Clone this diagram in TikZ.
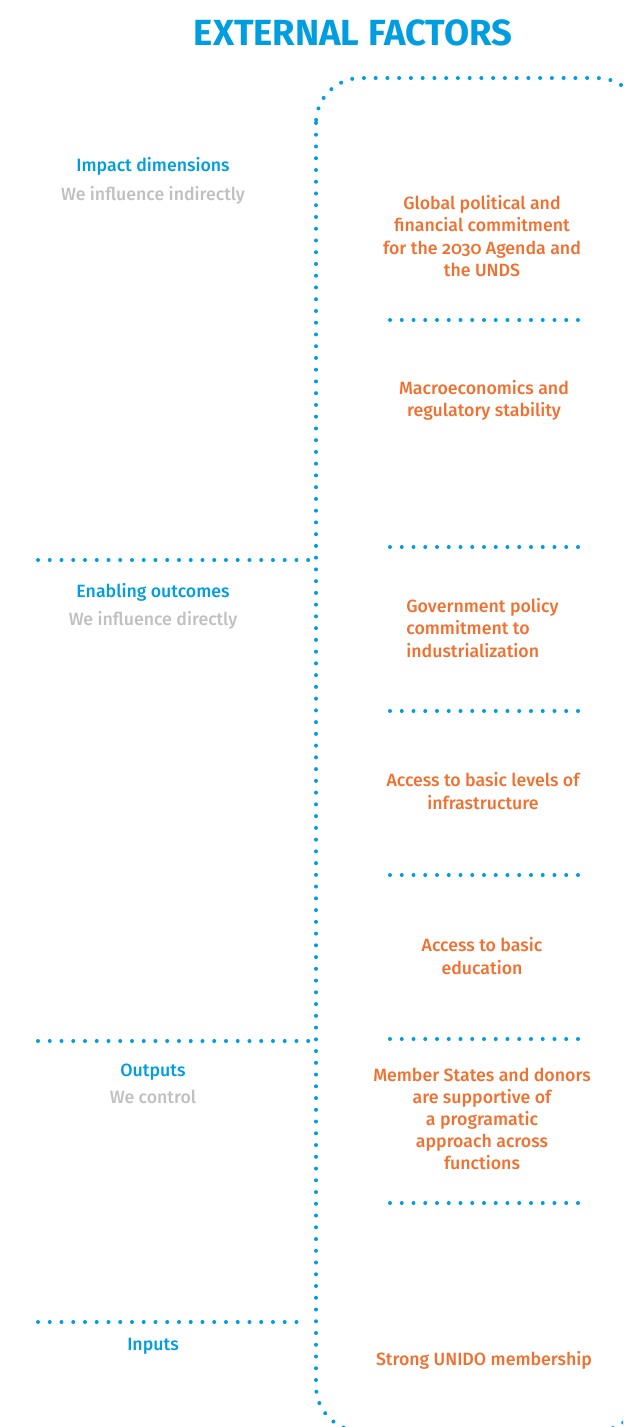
\documentclass[tikz,border=0pt]{standalone}
\usepackage{fontspec}
\setmainfont{Fira Sans}[Numbers=OldStyle]
\newfontfamily\medfont{Fira Sans Medium}[Numbers=OldStyle]
\usetikzlibrary{positioning}
\definecolor{unidoblue}{RGB}{0,158,224}
\definecolor{factororange}{RGB}{241,112,48}
\definecolor{softgray}{RGB}{192,192,192}
\newcommand{\Divider}[4]{
\coordinate (#1L) at (#2,#4);
\coordinate (#1R) at (#3,#4);
\draw[dotline] (#1L)--(#1R);
}

\begin{document}
\begin{tikzpicture}[x=0.02cm, y=-0.02cm,
dotline/.style={unidoblue, line width=0.08cm, line cap=round, dash pattern=on 0pt off 0.235cm},
level/.style={text=unidoblue, font=\medfont\fontsize{10.1}{12.6}\selectfont, inner sep=0, anchor=base},
control/.style={text=softgray, font=\medfont\fontsize{10.1}{12.6}\selectfont, inner sep=0, anchor=base},
factor/.style={text=factororange, font=\medfont\fontsize{10.1}{12.6}\selectfont, inner sep=0, align=center},
]
\useasboundingbox (0,0) rectangle (623,1427); %%%%%%% SIZE OF THE PAGE
\clip (0,0) rectangle (623,1427);

%%%%%%%%%%%%%%%%%%%%%%%% TITLE %%%%%%%%%%%%%%%%%%%%%%%%%%%
\node[text=unidoblue, font=\bfseries\fontsize{20.7}{24}\selectfont, inner sep=0] (Title) at (353,33) {EXTERNAL FACTORS};

%%%%%%%%%%%%%%%%%%%%%%%% FRAME %%%%%%%%%%%%%%%%%%%%%%%%%%%
\coordinate (FrameNW) at (316,78);
\coordinate (FrameSE) at (642,1431);
\draw[dotline, rounded corners=0.9cm] (FrameNW) rectangle (FrameSE);

%%%%%%%%% LEVELS (left side) %%%%%%%%%%%%%
\Divider{Enabling}{38}{316}{560}
\Divider{Outputs}{38}{316}{1041}
\Divider{Inputs}{38}{305}{1322}

\node[level] (Impact) at (153,171) {Impact dimensions};
\node[control] (ImpactCtl) at (153,200) {We influence indirectly};
\node[level] (Enabling) at (153,597) {Enabling outcomes};
\node[control] (EnablingCtl) at (153,625) {We influence directly};
\node[level] (Outputs) at (153,1076) {Outputs};
\node[control] (OutputsCtl) at (153,1103) {We control};
\node[level] (Inputs) at (153,1350) {Inputs};

%%%%%%%%% FACTORS (right side) %%%%%%%%%%%%%
\Divider{SepA}{390}{578}{320}
\Divider{SepB}{390}{578}{547}
\Divider{SepC}{390}{578}{711}
\Divider{SepD}{390}{578}{875}
\Divider{SepE}{390}{578}{1039}
\Divider{SepF}{390}{578}{1203}

\node[factor] (Global) at (482,236) {Global political and\\financial commitment\\for the 2030 Agenda and\\the UNDS};
\node[factor] (Macro) at (484,400) {Macroeconomics and\\regulatory stability};
\node[factor, align=left, anchor=west] (Policy) at (406,628) {Government policy\\commitment to\\industrialization};
\node[factor] (Infra) at (483,791) {Access to basic levels of\\infrastructure};
\node[factor] (Education) at (482,956) {Access to basic\\education};
\node[factor] (Members) at (482,1119) {Member States and donors\\are supportive of\\a programatic\\approach across\\functions};
\node[factor] (Membership) at (484,1360) {Strong UNIDO membership};
\end{tikzpicture}
\end{document}
